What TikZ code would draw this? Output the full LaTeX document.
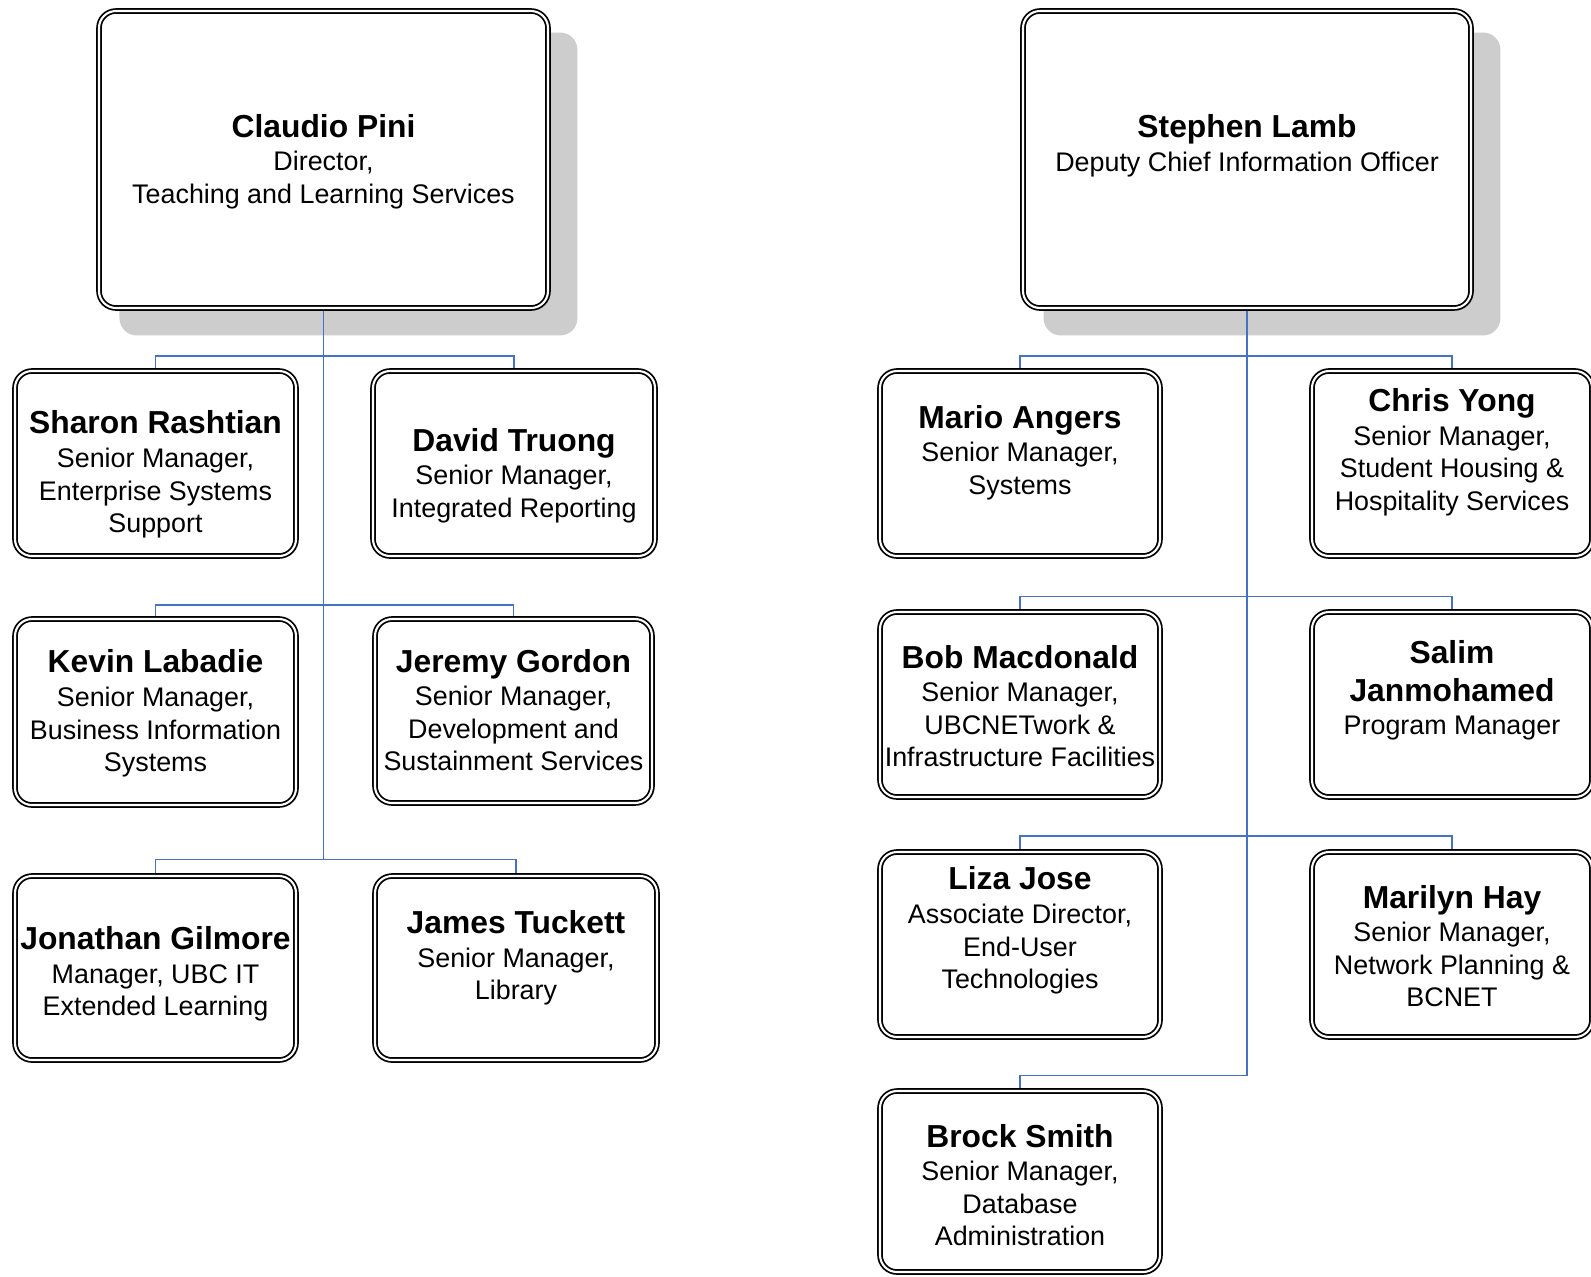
\documentclass[tikz,border=0pt]{standalone}
\usepackage{fontspec}
\setmainfont{Liberation Sans}
\usepackage{tikz}
\usetikzlibrary{positioning,shadows}
\tikzstyle{chart} = [x = 0.02cm, y = -0.02cm]
\definecolor{linkColor}{HTML}{4472C4}
\definecolor{shadowGray}{HTML}{CDCDCD}
\newcommand{\pxUnit}{0.02cm}
\newcommand{\nameFont}{\fontsize{18.1pt}{22pt}\selectfont\bfseries}
\tikzstyle{personBox} = [draw=black, fill=white, line width=1pt, double=white, double distance=1.2pt, rounded corners=0.34cm, outer sep=1.6pt, inner sep=0pt]
\tikzstyle{headBox} = [personBox, drop shadow={shadow xshift=0.49cm, shadow yshift=-0.48cm, shadow scale=1.02, fill=shadowGray, opacity=1}]
\tikzstyle{personText} = [align=center, inner sep=0pt, font=\fontsize{15.3pt}{18.5pt}\selectfont]
\tikzstyle{linkLine} = [color=linkColor, line width=1.1pt]
\newcommand{\personNode}[7]{
  \node [personBox, minimum width=#4*\pxUnit, minimum height=#5*\pxUnit] (#1) at (#2,#3) {};
  \node [personText] (#1Text) at (#2,#3 + #6) {#7};
}
\newcommand{\headNode}[7]{
  \node [headBox, minimum width=#4*\pxUnit, minimum height=#5*\pxUnit] (#1) at (#2,#3) {};
  \node [personText] (#1Text) at (#2,#3 + #6) {#7};
}

\begin{document}
\begin{tikzpicture}[chart]
    \useasboundingbox (0,0) rectangle (1591,1276);
    % left chart
    \headNode{pini}{323.5}{159.5}{449}{297}{2}{{\nameFont Claudio Pini}\\[0.6pt]Director,\\Teaching and Learning Services}
    \personNode{rashtian}{155.5}{463.5}{281}{185}{11}{{\nameFont Sharon Rashtian}\\[0.6pt]Senior Manager,\\Enterprise Systems\\Support}
    \personNode{truong}{514}{463.5}{282}{185}{12}{{\nameFont David Truong}\\[0.6pt]Senior Manager,\\Integrated Reporting}
    \personNode{labadie}{155.5}{712}{281}{186}{1.5}{{\nameFont Kevin Labadie}\\[0.6pt]Senior Manager,\\Business Information\\Systems}
    \personNode{gordon}{513.5}{711}{277}{184}{-1}{{\nameFont Jeremy Gordon}\\[0.6pt]Senior Manager,\\Development and\\Sustainment Services}
    \personNode{gilmore}{155.5}{968}{281}{184}{6}{{\nameFont Jonathan Gilmore}\\[0.6pt]Manager, UBC IT\\Extended Learning}
    \personNode{tuckett}{516}{968}{282}{184}{-10}{{\nameFont James Tuckett}\\[0.6pt]Senior Manager,\\Library}
    % right chart
    \headNode{lamb}{1247}{159.5}{448}{297}{-14}{{\nameFont Stephen Lamb}\\[0.6pt]Deputy Chief Information Officer}
    \personNode{angers}{1020}{463.5}{280}{185}{-11}{{\nameFont Mario Angers}\\[0.6pt]Senior Manager,\\Systems}
    \personNode{yong}{1452}{463.5}{280}{185}{-11.5}{{\nameFont Chris Yong}\\[0.6pt]Senior Manager,\\Student Housing \&\\Hospitality Services}
    \personNode{macdonald}{1020}{704.5}{280}{185}{1.5}{{\nameFont Bob Macdonald}\\[0.6pt]Senior Manager,\\UBCNETwork \&\\Infrastructure Facilities}
    \personNode{janmohamed}{1452}{704.5}{280}{185}{-14}{{\nameFont Salim}\\[3pt]{\nameFont Janmohamed}\\[0.6pt]Program Manager}
    \personNode{jose}{1020}{944.5}{280}{185}{-14}{{\nameFont Liza Jose}\\[0.6pt]Associate Director,\\End-User\\Technologies}
    \personNode{hay}{1452}{944.5}{280}{185}{1.5}{{\nameFont Marilyn Hay}\\[0.6pt]Senior Manager,\\Network Planning \&\\BCNET}
    \personNode{smith}{1020}{1181.5}{280}{181}{3.5}{{\nameFont Brock Smith}\\[0.6pt]Senior Manager,\\Database\\Administration}
    % links
    \coordinate (leftBarA) at (323.5,356);
    \coordinate (leftBarB) at (323.5,605);
    \coordinate (leftBarC) at (323.5,859.5);
    \draw [linkLine] (pini.south) -- (leftBarC);
    \draw [linkLine] (rashtian.north) |- (leftBarA) -| (truong.north);
    \draw [linkLine] (labadie.north) |- (leftBarB) -| (gordon.north);
    \draw [linkLine] (gilmore.north) |- (leftBarC) -| (tuckett.north);
    \coordinate (rightBarA) at (1247,356);
    \coordinate (rightBarB) at (1247,596.5);
    \coordinate (rightBarC) at (1247,836);
    \coordinate (rightBarD) at (1247,1075.5);
    \draw [linkLine] (lamb.south) -- (rightBarD) -| (smith.north);
    \draw [linkLine] (angers.north) |- (rightBarA) -| (yong.north);
    \draw [linkLine] (macdonald.north) |- (rightBarB) -| (janmohamed.north);
    \draw [linkLine] (jose.north) |- (rightBarC) -| (hay.north);
\end{tikzpicture}
\end{document}
